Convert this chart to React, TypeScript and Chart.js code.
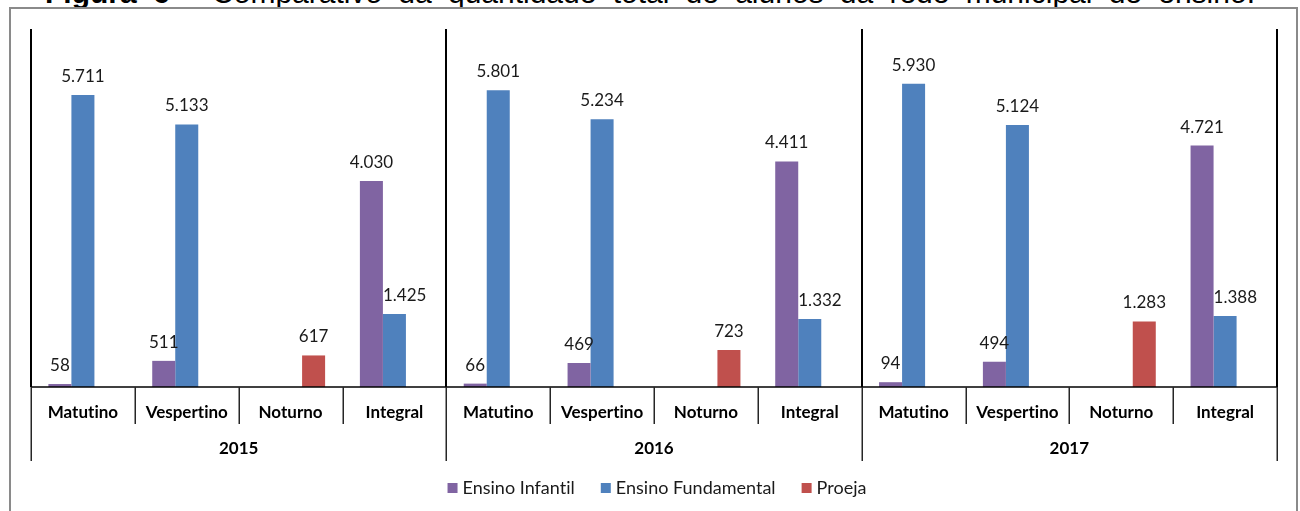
import React, { useEffect, useRef } from 'react';
import { Chart, registerables } from 'chart.js';

Chart.register(...registerables);

const shifts = ['Matutino', 'Vespertino', 'Noturno', 'Integral'];
const years = ['2015', '2016', '2017'];
const categories = [
  'Matutino', 'Vespertino', 'Noturno', 'Integral',
  'Matutino', 'Vespertino', 'Noturno', 'Integral',
  'Matutino', 'Vespertino', 'Noturno', 'Integral',
];
const infantil = [58, 511, null, 4030, 66, 469, null, 4411, 94, 494, null, 4721];
const fundamental = [5711, 5133, null, 1425, 5801, 5234, null, 1332, 5930, 5124, null, 1388];
const proeja = [null, null, 617, null, null, null, 723, null, null, null, 1283, null];
const seriesNames = ['Ensino Infantil', 'Ensino Fundamental', 'Proeja'];
const seriesColors = ['#8064A2', '#4F81BD', '#C0504D'];
const yMax = 7000;

const FONT = 'Lato, "Open Sans", sans-serif';

const fmt = (n: number) => String(n).replace(/\B(?=(\d{3})+(?!\d))/g, '.');

const multiAxisPlugin = {
  id: 'multiAxis',
  afterDatasetsDraw(chart: any) {
    const ctx: any = chart.ctx;
    const xs = chart.scales.x;
    const { top, bottom, left, right } = chart.chartArea;
    const n = categories.length;
    const per = shifts.length;
    const bx = (i: number) => xs.getPixelForValue(i - 0.5);

    ctx.save();
    try {
      ctx.textRendering = 'optimizeSpeed';
      ctx.letterSpacing = '0.01px';
    } catch (e) {}
    // data labels
    ctx.fillStyle = '#1a1a1a';
    ctx.font = `17px ${FONT}`;
    ctx.textBaseline = 'middle';
    chart.data.datasets.forEach((ds: any, di: number) => {
      const meta = chart.getDatasetMeta(di);
      meta.data.forEach((el: any, i: number) => {
        const v = ds.data[i];
        if (v == null) return;
        let x = el.x;
        ctx.textAlign = 'center';
        // avoid overlapping a taller neighbouring bar on the left
        if (di > 0) {
          const prev = chart.data.datasets[di - 1].data[i];
          if (prev != null && prev > v) {
            ctx.textAlign = 'left';
            x = el.x - el.width / 2;
          }
        }
        ctx.fillText(fmt(v), x, el.y - 18.5);
      });
    });

    // plot vertical lines (group boundaries)
    ctx.strokeStyle = '#000';
    ctx.lineWidth = 2;
    for (let g = 0; g <= years.length; g++) {
      const x = Math.round(bx(g * per));
      ctx.beginPath();
      ctx.moveTo(x, top);
      ctx.lineTo(x, bottom);
      ctx.stroke();
    }
    // baseline
    ctx.lineWidth = 1.5;
    ctx.beginPath();
    ctx.moveTo(left, bottom);
    ctx.lineTo(right, bottom);
    ctx.stroke();

    // category separators
    ctx.strokeStyle = '#262626';
    ctx.lineWidth = 1.5;
    for (let i = 0; i <= n; i++) {
      const x = Math.round(bx(i)) + 0.25;
      const len = i % per === 0 ? 74 : 37;
      ctx.beginPath();
      ctx.moveTo(x, bottom);
      ctx.lineTo(x, bottom + len);
      ctx.stroke();
    }

    // category labels
    ctx.fillStyle = '#000';
    ctx.font = `bold 17px ${FONT}`;
    ctx.textAlign = 'center';
    ctx.textBaseline = 'middle';
    for (let i = 0; i < n; i++) {
      ctx.fillText(categories[i], xs.getPixelForValue(i), bottom + 25.5);
    }
    years.forEach((y, g) => {
      const cx = (bx(g * per) + bx((g + 1) * per)) / 2;
      ctx.fillText(y, cx, bottom + 62);
    });

    // legend
    ctx.font = `18px ${FONT}`;
    ctx.textAlign = 'left';
    const sq = 10;
    const gapText = 5;
    const gapItem = 26;
    const widths = seriesNames.map((s) => ctx.measureText(s).width);
    const total = widths.reduce((a: number, w: number) => a + sq + gapText + w, 0) + gapItem * (seriesNames.length - 1);
    let lx = (left + right) / 2 + 3 - total / 2;
    const ly = bottom + 101;
    seriesNames.forEach((s, k) => {
      ctx.fillStyle = seriesColors[k];
      ctx.fillRect(lx, ly - sq / 2, sq, sq);
      ctx.fillStyle = '#1a1a1a';
      ctx.fillText(s, lx + sq + gapText, ly);
      lx += sq + gapText + widths[k] + gapItem;
    });
    ctx.restore();
  },
};

export default function App() {
  const ref = useRef<HTMLCanvasElement | null>(null);

  useEffect(() => {
    if (!ref.current) return;
    const chart = new Chart(ref.current, {
      type: 'bar',
      data: {
        labels: categories,
        datasets: [
          { label: seriesNames[0], data: infantil, backgroundColor: seriesColors[0] },
          { label: seriesNames[1], data: fundamental, backgroundColor: seriesColors[1] },
          { label: seriesNames[2], data: proeja, backgroundColor: seriesColors[2] },
        ] as any,
      },
      options: {
        responsive: false,
        animation: false,
        layout: { padding: { left: 31, right: 23, top: 29, bottom: 124 } },
        datasets: {
          bar: { categoryPercentage: 0.665, barPercentage: 1, borderWidth: 0 },
        },
        plugins: {
          legend: { display: false },
          tooltip: { enabled: false },
          title: { display: false },
        },
        scales: {
          x: { display: false, offset: true },
          y: { display: false, min: 0, max: yMax, beginAtZero: true },
        },
      } as any,
      plugins: [multiAxisPlugin],
    });
    return () => chart.destroy();
  }, []);

  return (
    <div
      style={{
        position: 'fixed',
        left: 0,
        top: 0,
        width: 1300,
        height: 511,
        overflow: 'hidden',
        background: '#fff',
      }}
    >
      <div
        style={{
          position: 'absolute',
          left: 45,
          top: -22,
          width: 1210,
          fontFamily: '"Liberation Sans", Arial, sans-serif',
          fontSize: 30,
          lineHeight: '30px',
          color: '#000',
          textAlign: 'justify',
          textAlignLast: 'justify' as any,
          zIndex: 0,
        }}
      >
        <b>Figura 6</b> - Comparativo da quantidade total de alunos da rede municipal de ensino.
      </div>
      <div
        style={{
          position: 'absolute',
          left: 9,
          top: 7,
          width: 1285,
          height: 540,
          border: '2px solid #8a8a8a',
          background: '#fff',
          zIndex: 1,
        }}
      />
      <canvas
        ref={ref}
        width={1300}
        height={511}
        style={{ position: 'absolute', left: 0, top: 0, zIndex: 2 }}
      />
    </div>
  );
}
